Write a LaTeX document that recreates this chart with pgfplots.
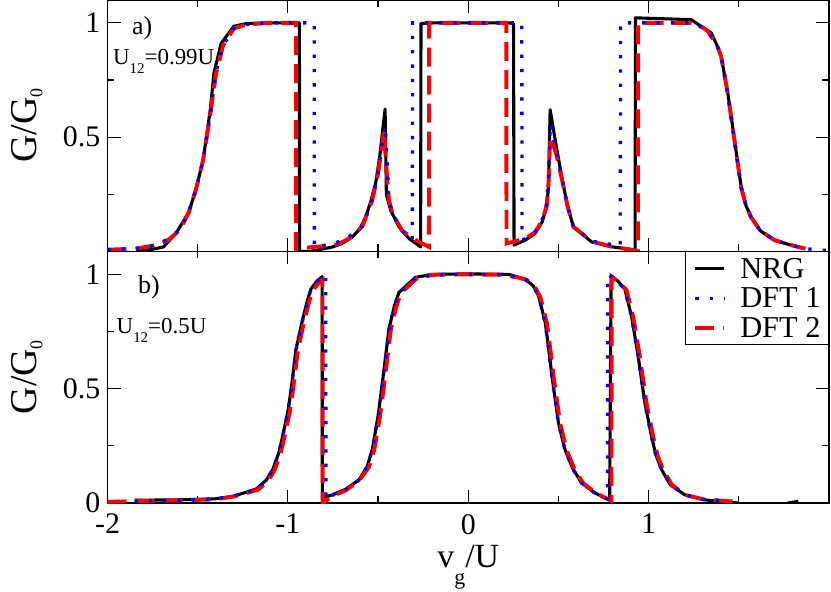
\documentclass[border=0pt]{standalone}
\usepackage{fontspec}
\setmainfont{Liberation Serif}
\usepackage{pgfplots}
\pgfplotsset{compat=1.18}
\newcommand{\tickfont}{\fontsize{30}{30}\selectfont}
\newcommand{\lowsub}[3]{\raisebox{-#1}{\fontsize{#2}{#2}\selectfont #3}}
\pgfplotsset{
  nrg/.style={black, line width=3.1bp, line join=round},
  dftone/.style={blue, line width=3.3bp, dash pattern=on 3.3bp off 11bp},
  dfttwo/.style={red, line width=3.9bp, dash pattern=on 19bp off 9bp},
  common/.style={
    scale only axis, width=721.5bp, height=251.5bp,
    xmin=-2, xmax=2, ymin=0, ymax=1.1,
    xtick={-2,-1,0,1,2}, minor xtick={-1.5,-0.5,0.5,1.5},
    ytick={0,0.5,1}, minor ytick={0.25,0.75},
    tick align=inside,
    major tick length=13bp, minor tick length=7bp,
    axis line style={line width=1.2bp, black},
    every tick/.style={line width=1.2bp, black},
    xticklabel style={font=\tickfont, inner sep=0pt, anchor=north, yshift=-11bp},
    yticklabel style={font=\tickfont, inner sep=0pt, anchor=east, xshift=-7bp},
    every axis y label/.style={at={(axis description cs:-0.1116,0.5)}, anchor=center, rotate=90, inner sep=0pt, font=\fontsize{38}{38}\selectfont},
    every axis x label/.style={at={(axis description cs:0.5,0)}, anchor=base, yshift=-64bp, inner sep=0pt, font=\fontsize{34}{34}\selectfont},
    legend image code/.code={\draw[##1] (0bp,0bp) -- (29bp,0bp);},
  },
}
\begin{document}
\begin{tikzpicture}
% ---------------- top panel a) ----------------
\begin{axis}[common, at={(0,251.5bp)}, anchor=south west,
  xticklabels={,,,,}, yticklabels={,0.5,1},
  ylabel={G/G\lowsub{6bp}{18}{0}}]
\addplot[nrg] coordinates {
(-1.84,0.0) (-1.75,0.01) (-1.69,0.02) (-1.62,0.08) (-1.55,0.17) (-1.51,0.27)
(-1.47,0.40) (-1.43,0.62) (-1.41,0.78) (-1.37,0.91) (-1.30,0.985) (-1.23,0.997)
(-1.12,1.0) (-0.936,1.0) (-0.935,0.0) (-0.88,0.0) (-0.80,0.012) (-0.752,0.02)
(-0.70,0.035) (-0.642,0.064) (-0.60,0.10) (-0.568,0.152) (-0.54,0.22) (-0.513,0.30)
(-0.49,0.42) (-0.476,0.52) (-0.461,0.623) (-0.454,0.25) (-0.43,0.18) (-0.384,0.108)
(-0.329,0.057) (-0.264,0.02) (-0.262,0.997) (-0.2,1.0) (0.0,1.0) (0.224,1.0)
(0.251,0.997) (0.254,0.028) (0.316,0.05) (0.371,0.079) (0.41,0.13) (0.435,0.196)
(0.445,0.283) (0.454,0.62) (0.482,0.488) (0.518,0.327) (0.55,0.20) (0.583,0.108)
(0.684,0.042) (0.80,0.02) (0.905,0.009) (0.925,0.005) (0.927,1.022) (1.0,1.02)
(1.236,1.014) (1.30,0.98) (1.347,0.956) (1.38,0.90) (1.402,0.853) (1.439,0.693)
(1.476,0.488) (1.513,0.283) (1.54,0.20) (1.568,0.152) (1.62,0.09) (1.697,0.05)
(1.78,0.03) (1.863,0.013)
};
\addplot[dfttwo] coordinates {
(-2.0,0.008) (-1.85,0.012) (-1.75,0.025) (-1.664,0.05) (-1.60,0.093) (-1.55,0.17)
(-1.51,0.27) (-1.47,0.40) (-1.43,0.60) (-1.40,0.77) (-1.36,0.90) (-1.30,0.975)
(-1.23,0.993) (-1.10,1.0) (-0.955,1.0) (-0.954,0.01) (-0.863,0.02) (-0.752,0.025)
(-0.688,0.045) (-0.642,0.067) (-0.587,0.11) (-0.532,0.225) (-0.50,0.34) (-0.476,0.47)
(-0.467,0.53) (-0.457,0.40) (-0.44,0.225) (-0.42,0.165) (-0.366,0.09) (-0.292,0.05)
(-0.218,0.02) (-0.217,1.0) (0.0,1.0) (0.211,1.0) (0.212,0.035) (0.316,0.056)
(0.371,0.085) (0.41,0.135) (0.435,0.2) (0.445,0.30) (0.452,0.45) (0.459,0.50)
(0.47,0.47) (0.49,0.42) (0.518,0.32) (0.55,0.2) (0.583,0.108) (0.684,0.045)
(0.80,0.02) (0.90,0.008) (0.941,0.003) (0.942,1.0) (1.236,1.0) (1.30,0.98)
(1.329,0.963) (1.38,0.90) (1.402,0.853) (1.439,0.69) (1.476,0.485) (1.513,0.28)
(1.54,0.2) (1.568,0.15) (1.62,0.09) (1.697,0.05) (1.78,0.03) (1.87,0.012)
};
\addplot[dftone] coordinates {
(-2.0,0.008) (-1.85,0.012) (-1.75,0.025) (-1.664,0.053) (-1.60,0.096) (-1.55,0.17)
(-1.51,0.27) (-1.47,0.40) (-1.43,0.60) (-1.40,0.78) (-1.36,0.90) (-1.30,0.975)
(-1.23,0.993) (-1.10,1.0) (-0.854,1.0) (-0.853,0.02) (-0.77,0.03) (-0.688,0.05)
(-0.587,0.108) (-0.532,0.225) (-0.50,0.34) (-0.476,0.48) (-0.46,0.55) (-0.454,0.46)
(-0.44,0.225) (-0.42,0.167) (-0.366,0.093) (-0.31,0.05) (-0.309,1.0) (0.0,1.0)
(0.297,1.0) (0.298,0.05) (0.33,0.06) (0.371,0.085) (0.41,0.14) (0.435,0.21)
(0.445,0.32) (0.452,0.50) (0.457,0.56) (0.47,0.50) (0.49,0.43) (0.518,0.327)
(0.55,0.20) (0.583,0.108) (0.684,0.045) (0.80,0.03) (0.843,0.025) (0.844,1.0)
(1.0,1.0) (1.236,1.0) (1.30,0.98) (1.329,0.963) (1.38,0.90) (1.402,0.853)
(1.439,0.69) (1.476,0.485) (1.513,0.28) (1.54,0.2) (1.568,0.15) (1.62,0.09)
(1.697,0.05) (1.78,0.03) (1.863,0.013) (1.95,0.006) (2.0,0.005)
};
\node[anchor=base west, inner sep=0pt, font=\fontsize{26}{26}\selectfont] at (axis description cs:0.034,0.861) {a)};
\node[anchor=base west, inner sep=0pt, font=\fontsize{23}{23}\selectfont] at (axis description cs:0.0076,0.7416) {U\lowsub{9bp}{15}{12}=0.99U};
\end{axis}
% ---------------- bottom panel b) ----------------
\begin{axis}[common, at={(0,0)}, anchor=south west,
  xticklabels={-2,-1,0,1,}, yticklabels={0,0.5,1},
  ylabel={G/G\lowsub{6bp}{18}{0}},
  xlabel={v\lowsub{17bp}{22}{g}/U},
  legend cell align=left,
  legend style={at={(1,1)}, anchor=north east, draw=black, line width=1bp, fill=white,
    inner xsep=8bp, inner ysep=2bp, row sep=0bp, column sep=14bp,
    font=\fontsize{30.5}{30.5}\selectfont, nodes={inner xsep=0bp, inner ysep=4bp}}]
\addlegendimage{nrg}
\addlegendentry{NRG}
\addlegendimage{dftone}
\addlegendentry{DFT 1}
\addlegendimage{dfttwo}
\addlegendentry{DFT 2}
\addplot[nrg, forget plot] coordinates {
(-1.85,0.012) (-1.6,0.014) (-1.406,0.018) (-1.30,0.03) (-1.176,0.061) (-1.12,0.10)
(-1.084,0.146) (-1.05,0.22) (-1.029,0.292) (-1.00,0.40) (-0.982,0.497) (-0.955,0.672)
(-0.918,0.804) (-0.89,0.89) (-0.872,0.936) (-0.84,0.97) (-0.81,0.99) (-0.809,0.022)
(-0.753,0.036) (-0.68,0.06) (-0.605,0.102) (-0.56,0.16) (-0.532,0.234) (-0.50,0.38)
(-0.476,0.526) (-0.44,0.76) (-0.41,0.86) (-0.384,0.921) (-0.292,0.987) (-0.2,1.0)
(0.0,1.002) (0.224,1.0) (0.316,0.979) (0.36,0.95) (0.39,0.906) (0.427,0.789)
(0.445,0.68) (0.464,0.555) (0.5,0.351) (0.536,0.234) (0.58,0.15) (0.628,0.088)
(0.70,0.045) (0.757,0.022) (0.784,0.015) (0.792,0.994) (0.83,0.97) (0.868,0.936)
(0.905,0.818) (0.942,0.643) (0.979,0.439) (1.016,0.292) (1.04,0.21) (1.072,0.146)
(1.12,0.08) (1.2,0.036) (1.3,0.015) (1.384,0.007) (1.5,0.0)
};
\addplot[nrg, forget plot] coordinates {(1.77,0.0) (1.83,0.007)};
\addplot[dfttwo, forget plot] coordinates {
(-2.0,0.005) (-1.85,0.008) (-1.6,0.011) (-1.406,0.016) (-1.30,0.028) (-1.166,0.058)
(-1.11,0.096) (-1.074,0.143) (-1.04,0.218) (-1.019,0.288) (-0.99,0.397) (-0.972,0.494)
(-0.945,0.667) (-0.908,0.80) (-0.88,0.886) (-0.862,0.93) (-0.83,0.962) (-0.808,0.975)
(-0.807,0.0) (-0.753,0.03) (-0.68,0.055) (-0.605,0.098) (-0.55,0.158) (-0.522,0.23)
(-0.49,0.375) (-0.466,0.52) (-0.43,0.755) (-0.40,0.856) (-0.374,0.918) (-0.282,0.985)
(-0.19,0.998) (0.0,1.0) (0.19,0.998) (0.282,0.985) (0.326,0.975) (0.37,0.945)
(0.40,0.90) (0.437,0.783) (0.455,0.672) (0.474,0.548) (0.51,0.346) (0.546,0.23)
(0.59,0.146) (0.638,0.086) (0.71,0.043) (0.767,0.02) (0.794,0.01) (0.795,0.99)
(0.84,0.962) (0.878,0.93) (0.915,0.812) (0.952,0.637) (0.989,0.433) (1.026,0.288)
(1.05,0.206) (1.082,0.143) (1.13,0.078) (1.21,0.034) (1.31,0.015) (1.48,0.006)
};
\addplot[dftone, forget plot] coordinates {
(-1.85,0.008) (-1.6,0.012) (-1.406,0.018) (-1.30,0.03) (-1.176,0.06) (-1.12,0.098)
(-1.084,0.145) (-1.05,0.22) (-1.029,0.29) (-1.0,0.40) (-0.982,0.495) (-0.955,0.668)
(-0.918,0.80) (-0.89,0.888) (-0.872,0.933) (-0.84,0.968) (-0.79,0.998) (-0.789,0.015)
(-0.753,0.034) (-0.68,0.058) (-0.605,0.10) (-0.56,0.16) (-0.532,0.232) (-0.50,0.375)
(-0.476,0.52) (-0.44,0.755) (-0.41,0.858) (-0.384,0.92) (-0.292,0.986) (-0.2,0.998)
(0.0,1.0) (0.2,0.998) (0.292,0.986) (0.316,0.978) (0.36,0.948) (0.39,0.904)
(0.427,0.785) (0.445,0.675) (0.464,0.55) (0.5,0.348) (0.536,0.232) (0.58,0.148)
(0.628,0.087) (0.70,0.044) (0.757,0.022) (0.772,0.018) (0.773,0.998) (0.795,0.99)
(0.83,0.968) (0.868,0.933) (0.905,0.815) (0.942,0.64) (0.979,0.436) (1.016,0.29)
(1.04,0.208) (1.072,0.145) (1.12,0.08) (1.2,0.036) (1.3,0.016) (1.45,0.008)
};
\node[anchor=base west, inner sep=0pt, font=\fontsize{26}{26}\selectfont] at (axis description cs:0.0423,0.834) {b)};
\node[anchor=base west, inner sep=0pt, font=\fontsize{23}{23}\selectfont] at (axis description cs:0.0125,0.672) {U\lowsub{9bp}{15}{12}=0.5U};
\end{axis}
\pgfresetboundingbox
\useasboundingbox (-107.5bp,-89bp) rectangle (723.5bp,503bp);
\end{tikzpicture}
\end{document}
